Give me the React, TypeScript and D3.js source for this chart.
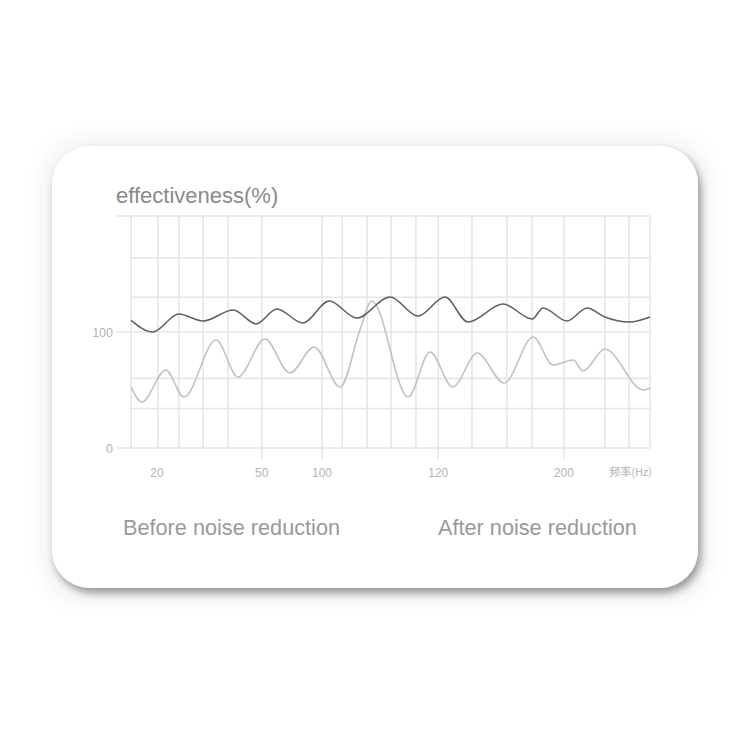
import React, { useEffect, useRef } from 'react';
import * as d3 from 'd3';

// x runs 0..100 along the plot width (log-like frequency spacing), y is effectiveness in %
const gridX = [0, 5.2, 9.2, 13.9, 18.7, 25.2, 36.8, 40.7, 45.5, 50.1, 54.9, 59.2, 65.7, 72.4, 77.3, 83.4, 91.3, 96, 100];
const gridY = [0, 34, 60, 100, 130, 164, 200];
const yTickValues = [0, 100];
const extendedGridY = [0, 100, 200];
const freqLabels = ['20', '50', '100', '120', '200'];
const freqPositions = [5.0, 25.2, 36.8, 59.2, 83.4];
const tickedPositions = [25.2, 36.8, 59.2, 83.4];

// after noise reduction (dark, steady line)
const afterX = [0, 4.2, 9.2, 13.9, 19.7, 24.1, 28.1, 33.1, 38.2, 43.5, 49.9, 55.3, 60.5, 64.9, 71.7, 77.3, 79.4, 84, 87.9, 91.3, 96.1, 100];
const afterY = [110, 100, 115.5, 109.5, 119, 107, 119.8, 107.8, 126.7, 112, 130.2, 113.8, 130.2, 108.6, 124.1, 111.2, 120.7, 109.5, 120.7, 112.9, 108.6, 112.9];

// before noise reduction (light, oscillating line)
const beforeX = [0, 2.1, 6.7, 10.2, 16.4, 20.6, 25.8, 30.6, 35.3, 40.3, 44.1, 46.4, 53.4, 57.6, 62, 66.7, 71.9, 77.5, 81.3, 85.2, 87.1, 91.3, 98.7, 100];
const beforeY = [52.6, 39.7, 67.2, 44, 93.1, 61.2, 94, 64.7, 87.1, 52.6, 101.7, 126.7, 44, 82.8, 52.6, 81.9, 56, 95.7, 71.6, 75.9, 66.4, 85.3, 50, 51.7];

const FONT = '"Liberation Sans", Arial, Helvetica, sans-serif';

const App: React.FC = () => {
  const svgRef = useRef<SVGSVGElement>(null);

  useEffect(() => {
    if (!svgRef.current) return;
    const svg = d3.select(svgRef.current);
    svg.selectAll('*').remove();

    const defs = svg.append('defs');
    const shadow = defs.append('filter').attr('id', 'cardShadow')
      .attr('x', '-10%').attr('y', '-10%').attr('width', '120%').attr('height', '125%');
    shadow.append('feDropShadow')
      .attr('dx', 3).attr('dy', 5).attr('stdDeviation', 4.5)
      .attr('flood-color', '#000').attr('flood-opacity', 0.4);

    const glow = defs.append('filter').attr('id', 'cardGlow')
      .attr('x', '-10%').attr('y', '-10%').attr('width', '120%').attr('height', '120%');
    glow.append('feGaussianBlur').attr('stdDeviation', 9);

    // card
    svg.append('rect')
      .attr('x', 40).attr('y', 136).attr('width', 672).attr('height', 468)
      .attr('rx', 40).attr('fill', '#000').attr('opacity', 0.035)
      .attr('filter', 'url(#cardGlow)');
    svg.append('rect')
      .attr('x', 52).attr('y', 146).attr('width', 646).attr('height', 442)
      .attr('rx', 38).attr('fill', '#fff')
      .attr('filter', 'url(#cardShadow)');

    const x = d3.scaleLinear().domain([0, 100]).range([131, 650]);
    const y = d3.scaleLinear().domain([0, 100]).range([448, 332]);

    const grid = svg.append('g')
      .attr('stroke', '#e6e6e6').attr('stroke-width', 1.6).attr('fill', 'none');

    grid.selectAll('.vline').data(gridX).enter().append('line')
      .attr('x1', (d) => x(d)).attr('x2', (d) => x(d))
      .attr('y1', y(200)).attr('y2', (d) => (tickedPositions.includes(d) ? y(0) + 11 : y(0)));

    grid.selectAll('.hline').data(gridY).enter().append('line')
      .attr('x1', (d) => (extendedGridY.includes(d) ? x(0) - 14 : x(0)))
      .attr('x2', x(100))
      .attr('y1', (d) => y(d)).attr('y2', (d) => y(d));

    // y tick labels
    svg.selectAll('.ylab').data(yTickValues).enter().append('text')
      .attr('x', 113).attr('y', (d) => y(d) + 4.5)
      .attr('text-anchor', 'end')
      .style('font-family', FONT).style('font-size', '12.5px').style('fill', '#b4b4b4')
      .text((d) => String(d));

    // x tick labels
    svg.selectAll('.xlab').data(freqLabels).enter().append('text')
      .attr('x', (_d, i) => x(freqPositions[i]))
      .attr('y', 477)
      .attr('text-anchor', 'middle')
      .style('font-family', FONT).style('font-size', '12px').style('fill', '#b4b4b4')
      .text((d) => d);

    svg.append('text')
      .attr('x', 652).attr('y', 476).attr('text-anchor', 'end')
      .style('font-family', `"Noto Sans CJK SC", ${FONT}`).style('font-size', '11px').style('fill', '#b4b4b4')
      .text('频率(Hz)');

    // title
    svg.append('text')
      .attr('x', 116).attr('y', 203)
      .style('font-family', FONT).style('font-size', '22px').style('fill', '#8a8a8a')
      .text('effectiveness(%)');

    const line = d3.line<[number, number]>()
      .x((d) => x(d[0]))
      .y((d) => y(d[1]))
      .curve(d3.curveMonotoneX);

    const beforePts = beforeX.map((v, i) => [v, beforeY[i]] as [number, number]);
    const afterPts = afterX.map((v, i) => [v, afterY[i]] as [number, number]);

    svg.append('path').datum(beforePts)
      .attr('fill', 'none').attr('stroke', '#c2c2c2').attr('stroke-width', 1.6)
      .attr('d', line);

    svg.append('path').datum(afterPts)
      .attr('fill', 'none').attr('stroke', '#5f5f5f').attr('stroke-width', 1.5)
      .attr('d', line);

    // legend captions
    svg.append('text')
      .attr('x', 123).attr('y', 535)
      .style('font-family', FONT).style('font-size', '21.7px').style('fill', '#9a9a9a')
      .text('Before noise reduction');
    svg.append('text')
      .attr('x', 438).attr('y', 535)
      .style('font-family', FONT).style('font-size', '21.7px').style('fill', '#9a9a9a')
      .text('After noise reduction');
  }, []);

  return (
    <div style={{ position: 'absolute', left: 0, top: 0 }}>
      <svg ref={svgRef} width={750} height={750} style={{ display: 'block', background: '#fff' }} />
    </div>
  );
};

export default App;
